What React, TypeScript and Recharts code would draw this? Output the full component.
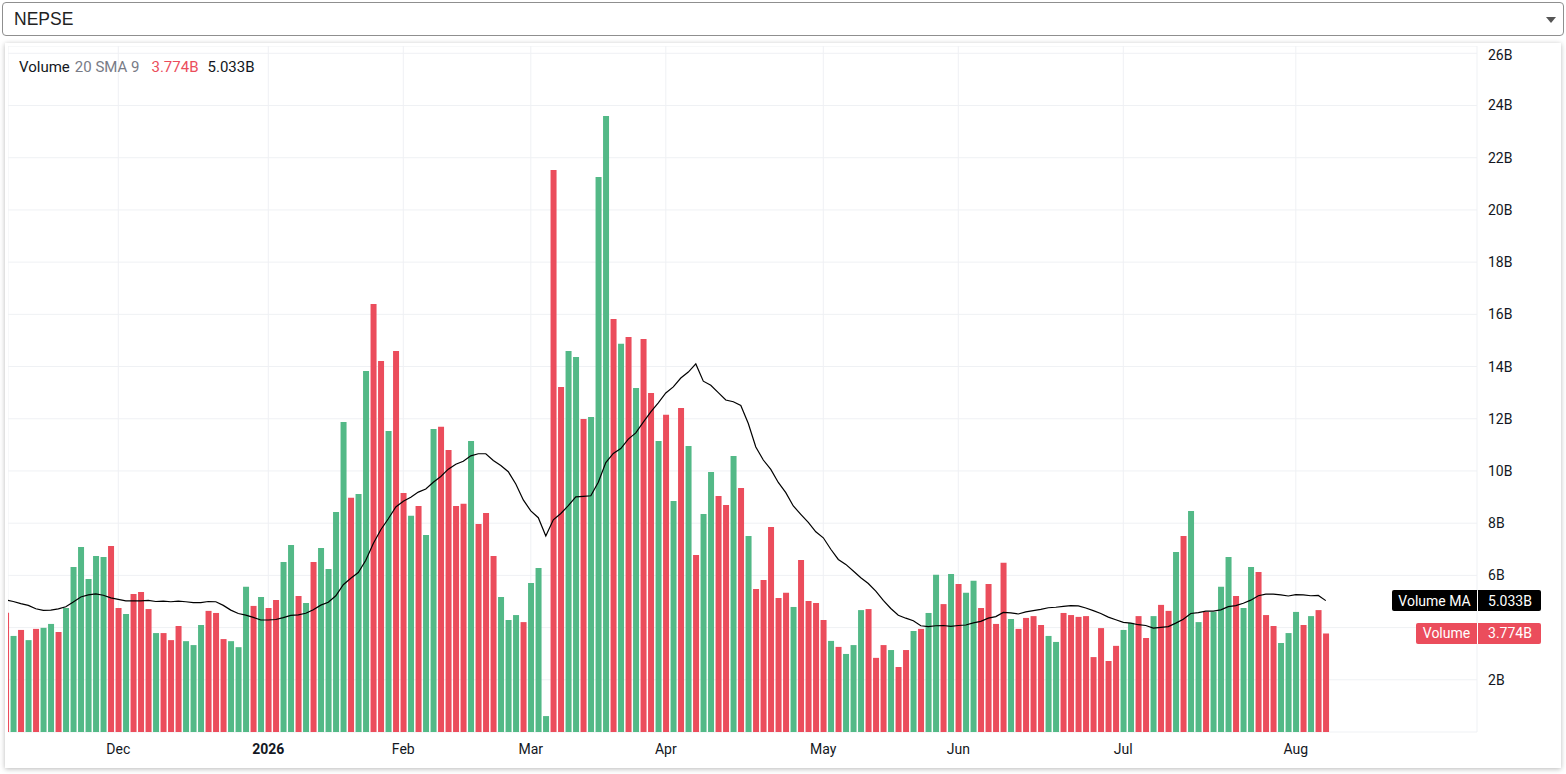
import React from 'react';
import { ComposedChart, Bar, Line, XAxis, YAxis, CartesianGrid, Cell, ReferenceLine } from 'recharts';

// daily turnover, in billions
const volumes = [
  4.57, 3.68, 3.91, 3.52, 3.95, 3.99, 4.14, 3.83, 4.75, 6.32,
  7.09, 5.86, 6.74, 6.7, 7.13, 4.75, 4.52, 5.29, 5.36, 4.71,
  3.79, 3.79, 3.52, 4.06, 3.48, 3.33, 4.1, 4.64, 4.56, 3.56,
  3.48, 3.25, 5.56, 4.83, 5.17, 4.75, 5.06, 6.51, 7.16, 5.21,
  4.94, 6.51, 7.05, 6.24, 8.43, 11.88, 8.97, 9.12, 13.83, 16.4,
  14.21, 11.53, 14.6, 9.16, 8.28, 8.66, 7.55, 11.61, 11.69, 10.8,
  8.66, 8.74, 11.15, 7.97, 8.39, 6.74, 5.17, 4.29, 4.48, 4.21,
  5.71, 6.28, 0.61, 21.53, 13.22, 14.6, 14.37, 11.99, 12.07, 21.26,
  23.6, 15.82, 14.87, 15.13, 13.18, 15.06, 12.99, 11.15, 12.15, 8.85,
  12.41, 10.96, 6.78, 8.35, 9.96, 9.04, 8.7, 10.57, 9.35, 7.51,
  5.48, 5.82, 7.85, 5.13, 5.33, 4.79, 6.59, 5.02, 4.94, 4.29,
  3.49, 3.26, 2.99, 3.33, 4.67, 4.71, 2.84, 3.33, 3.14, 2.49,
  3.14, 3.87, 3.95, 4.56, 6.02, 4.9, 6.05, 5.67, 5.33, 5.79,
  4.75, 5.67, 4.14, 6.48, 4.33, 3.95, 4.37, 4.44, 4.1, 3.68,
  3.45, 4.56, 4.48, 4.41, 4.44, 2.87, 3.98, 2.72, 3.3, 3.91,
  4.18, 4.44, 3.6, 4.44, 4.87, 4.64, 6.9, 7.51, 8.47, 4.21,
  4.6, 4.6, 5.56, 6.7, 5.21, 4.75, 6.32, 6.13, 4.48, 4.06,
  3.41, 3.79, 4.6, 4.1, 4.44, 4.67, 3.774,
];

// volume MA line as drawn
const volumeMa = [
  5.06, 5.0, 4.92, 4.85, 4.72, 4.66, 4.67, 4.72, 4.8, 4.98,
  5.17, 5.25, 5.29, 5.24, 5.14, 5.08, 5.02, 5.02, 5.02, 5.04,
  5.0, 5.01, 4.99, 5.01, 4.99, 4.96, 4.96, 5.0, 4.99, 4.85,
  4.67, 4.54, 4.48, 4.39, 4.29, 4.29, 4.31, 4.38, 4.47, 4.49,
  4.55, 4.68, 4.86, 4.97, 5.22, 5.64, 5.89, 6.11, 6.58, 7.22,
  7.75, 8.17, 8.62, 8.84, 8.99, 9.19, 9.31, 9.57, 9.79, 10.07,
  10.26, 10.37, 10.58, 10.66, 10.66, 10.4, 10.21, 9.97, 9.5, 8.89,
  8.47, 8.21, 7.51, 8.13, 8.37, 8.67, 9.01, 9.03, 9.05, 9.57,
  10.32, 10.67, 10.86, 11.22, 11.46, 11.87, 12.26, 12.61, 12.99, 13.22,
  13.56, 13.79, 14.1, 13.44, 13.28, 13.0, 12.72, 12.65, 12.51, 11.82,
  10.92, 10.42, 10.06, 9.56, 9.17, 8.66, 8.34, 8.03, 7.67, 7.44,
  7.0, 6.61, 6.42, 6.17, 5.91, 5.69, 5.4, 5.04, 4.73, 4.47,
  4.36, 4.26, 4.07, 4.04, 4.07, 4.08, 4.05, 4.08, 4.1, 4.18,
  4.24, 4.36, 4.42, 4.58, 4.56, 4.52, 4.6, 4.65, 4.7, 4.76,
  4.78, 4.81, 4.84, 4.83, 4.75, 4.65, 4.54, 4.4, 4.3, 4.2,
  4.17, 4.11, 4.08, 3.98, 4.01, 4.04, 4.17, 4.32, 4.54, 4.57,
  4.63, 4.63, 4.68, 4.8, 4.84, 4.93, 5.05, 5.22, 5.28, 5.28,
  5.25, 5.21, 5.26, 5.25, 5.22, 5.23, 5.033,
];

// u = up day (green bar), d = down day (red bar)
const moves =
  'dududuuduu' + 'uuuudduddd' + 'uddduuuddd' + 'uuududduud' + 'uduuuuduud' +
  'dudduduudd' + 'dduddduuud' + 'uuudduuduu' + 'udududdudu' + 'duduuddudu' +
  'dddddudddd' + 'uduuudddud' + 'duduududuu' + 'dddduddddu' + 'uddddddddu' +
  'uddudduduu' + 'duuuduuddd' + 'uuududd';

const monthStarts = [16, 36, 54, 71, 89, 110, 128, 150, 173];
const monthLabels = ['Dec', '2026', 'Feb', 'Mar', 'Apr', 'May', 'Jun', 'Jul', 'Aug'];
const volumeTicks = [2, 4, 6, 8, 10, 12, 14, 16, 18, 20, 22, 24, 26];

const UP = '#53b987';
const DOWN = '#eb4d5c';
const FONT = 'Roboto, "Noto Sans", sans-serif';
const INK = '#131722';

const data = volumes.map((v, i) => ({ idx: i + 1, vol: v, ma: volumeMa[i], up: moves[i] === 'u' }));
const lastVol = volumes[volumes.length - 1];
const lastMa = volumeMa[volumeMa.length - 1];

function TimeTick({ x, y, payload }: any) {
  const label = monthLabels[monthStarts.indexOf(payload.value)] ?? '';
  return (
    <text x={x} y={y} dy="0.71em" textAnchor="middle" fill={INK} fontSize={14} fontFamily={FONT}
      fontWeight={label === '2026' ? 700 : 400}>
      {label}
    </text>
  );
}

function PriceTick({ x, y, payload }: any) {
  // the 4B label sits under the last-value tags
  if (payload.value === 4) return <g />;
  return (
    <text x={x} y={y} dy="0.355em" textAnchor="start" fill={INK} fontSize={14} fontFamily={FONT}>
      {payload.value}B
    </text>
  );
}

function LastValueTag({ viewBox, title, value, bg, titleWidth }: any) {
  const edge = viewBox.x + viewBox.width;
  const y = viewBox.y;
  return (
    <g fontFamily={FONT} fontSize={14}>
      <rect x={edge - titleWidth} y={y - 10.5} width={titleWidth + 64} height={21} rx={2} fill={bg} />
      <line x1={edge + 0.5} x2={edge + 0.5} y1={y - 10.5} y2={y + 10.5} stroke="#fff" strokeWidth={1} />
      <text x={edge - titleWidth / 2} y={y} dy="0.355em" textAnchor="middle" fill="#fff">{title}</text>
      <text x={edge + 33} y={y} dy="0.355em" textAnchor="middle" fill="#fff">{value}</text>
    </g>
  );
}

export default function App() {
  return (
    <div style={{ position: 'absolute', left: 0, top: 0, width: 1566, height: 774, background: '#fff', fontFamily: FONT }}>
      <div style={{
        position: 'absolute', left: 2, top: 2, width: 1562, height: 34, boxSizing: 'border-box',
        border: '1px solid #8f8f8f', borderRadius: 4, fontFamily: '"Liberation Sans", Arial, sans-serif',
        fontSize: 17.5, color: '#222', lineHeight: '32px', paddingLeft: 11,
      }}>
        NEPSE
        <svg width={10} height={6} style={{ position: 'absolute', right: 7, top: 14 }}>
          <path d="M0 0 L10 0 L5 6 Z" fill="#555" />
        </svg>
      </div>

      <div style={{
        position: 'absolute', left: 5, top: 43, width: 1556, height: 725, background: '#fff',
        boxShadow: '0 1px 5px rgba(0,0,0,0.28)',
      }} />

      <div style={{ position: 'absolute', left: 8, top: 46 }}>
        <ComposedChart width={1552} height={721} data={data} margin={{ top: 0, right: 0, bottom: 0, left: 0 }}>
          <CartesianGrid stroke="#eff1f4" strokeWidth={1} />
          <XAxis type="number" dataKey="idx" domain={[1.293, 197.16]} allowDataOverflow ticks={monthStarts}
            interval={0} tickLine={false} axisLine={false} height={35} tickSize={0} tickMargin={12}
            tick={<TimeTick />} />
          <YAxis orientation="right" width={83} domain={[0, 26.28]} ticks={volumeTicks} tickLine={false}
            axisLine={false} tickSize={0} tickMargin={11} tick={<PriceTick />} />
          <Bar dataKey="vol" barSize={6} isAnimationActive={false}>
            {data.map((d) => (
              <Cell key={`bar-${d.idx}`} fill={d.up ? UP : DOWN} />
            ))}
          </Bar>
          <Line dataKey="ma" type="linear" stroke="#000" strokeWidth={1.2} dot={false} activeDot={false}
            isAnimationActive={false} />
          <ReferenceLine y={lastMa} stroke="none" strokeWidth={0}
            label={<LastValueTag title="Volume MA" value={`${lastMa.toFixed(3)}B`} bg="#000" titleWidth={85} />} />
          <ReferenceLine y={lastVol} stroke="none" strokeWidth={0}
            label={<LastValueTag title="Volume" value={`${lastVol.toFixed(3)}B`} bg={DOWN} titleWidth={61} />} />
        </ComposedChart>
      </div>

      <div style={{ position: 'absolute', left: 19, top: 58, fontSize: 15, lineHeight: '19px', whiteSpace: 'nowrap', color: INK }}>
        <span>Volume</span>
        <span style={{ color: '#787b86', marginLeft: 5 }}>20 SMA 9</span>
        <span style={{ color: DOWN, marginLeft: 12 }}>{lastVol.toFixed(3)}B</span>
        <span style={{ marginLeft: 9 }}>{lastMa.toFixed(3)}B</span>
      </div>
    </div>
  );
}
